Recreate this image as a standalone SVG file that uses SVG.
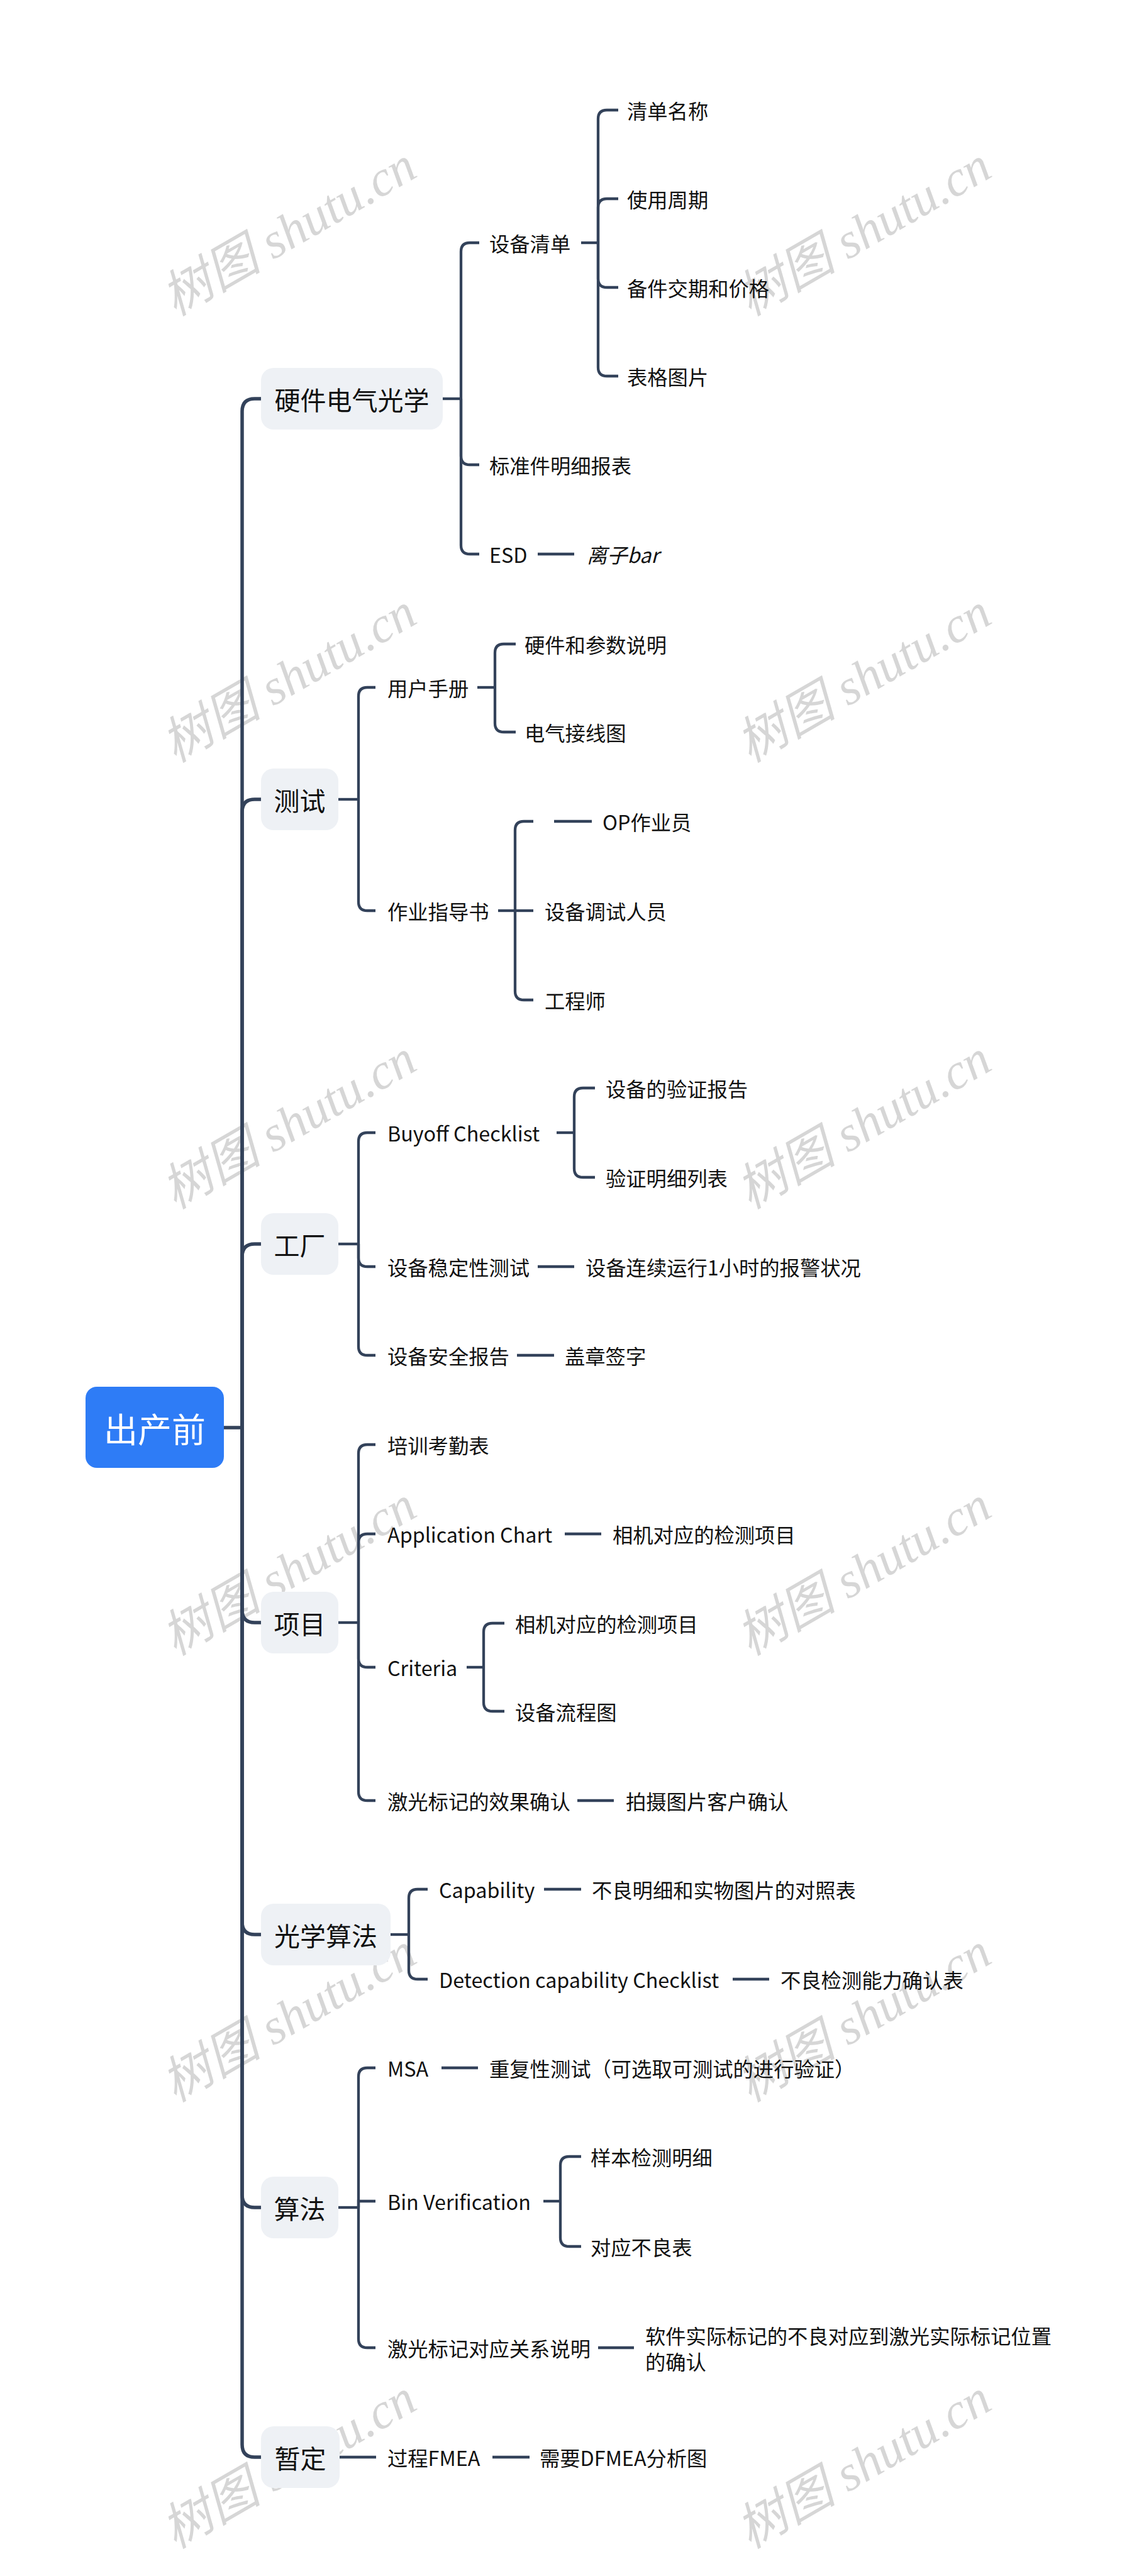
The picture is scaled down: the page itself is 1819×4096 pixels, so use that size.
<svg xmlns="http://www.w3.org/2000/svg" width="1819" height="4096" viewBox="0 0 1819 4096">
<style>
.wm{font-family:"Liberation Serif","Noto Sans CJK SC",serif;font-style:italic;font-size:80px;fill:#d6d6d6}
.t{font-family:"Noto Sans CJK SC","Noto Sans",sans-serif;font-size:32.3px;fill:#111;dominant-baseline:central}
.t1{font-family:"Noto Sans CJK SC","Noto Sans",sans-serif;font-size:41px;fill:#111;dominant-baseline:central;text-anchor:middle}
.t0{font-family:"Noto Sans CJK SC","Noto Sans",sans-serif;font-size:54px;fill:#fff;dominant-baseline:central;text-anchor:middle}
.b1{fill:#eef1f5}
.c1{fill:none;stroke:#33425a;stroke-width:5.5}
.c2{fill:none;stroke:#33425a;stroke-width:4.3}
</style>
<rect width="1819" height="4096" fill="#fff"/>
<g id="watermarks">
<text class="wm" transform="translate(459,368) rotate(-30)" text-anchor="middle" dominant-baseline="central">树图 shutu.cn</text>
<text class="wm" transform="translate(1373,368) rotate(-30)" text-anchor="middle" dominant-baseline="central">树图 shutu.cn</text>
<text class="wm" transform="translate(459,1078) rotate(-30)" text-anchor="middle" dominant-baseline="central">树图 shutu.cn</text>
<text class="wm" transform="translate(1373,1078) rotate(-30)" text-anchor="middle" dominant-baseline="central">树图 shutu.cn</text>
<text class="wm" transform="translate(459,1788) rotate(-30)" text-anchor="middle" dominant-baseline="central">树图 shutu.cn</text>
<text class="wm" transform="translate(1373,1788) rotate(-30)" text-anchor="middle" dominant-baseline="central">树图 shutu.cn</text>
<text class="wm" transform="translate(459,2498) rotate(-30)" text-anchor="middle" dominant-baseline="central">树图 shutu.cn</text>
<text class="wm" transform="translate(1373,2498) rotate(-30)" text-anchor="middle" dominant-baseline="central">树图 shutu.cn</text>
<text class="wm" transform="translate(459,3208) rotate(-30)" text-anchor="middle" dominant-baseline="central">树图 shutu.cn</text>
<text class="wm" transform="translate(1373,3208) rotate(-30)" text-anchor="middle" dominant-baseline="central">树图 shutu.cn</text>
<text class="wm" transform="translate(459,3918) rotate(-30)" text-anchor="middle" dominant-baseline="central">树图 shutu.cn</text>
<text class="wm" transform="translate(1373,3918) rotate(-30)" text-anchor="middle" dominant-baseline="central">树图 shutu.cn</text>
</g>
<g id="connectors">
<path class="c1" d="M356,2270 H385"/>
<path class="c1" d="M385,2270 V654 Q385,634 405,634 H415"/>
<path class="c1" d="M385,2270 V1291 Q385,1271 405,1271 H415"/>
<path class="c1" d="M385,2270 V1998 Q385,1978 405,1978 H415"/>
<path class="c1" d="M385,2270 V2560 Q385,2580 405,2580 H415"/>
<path class="c1" d="M385,2270 V3056 Q385,3076 405,3076 H415"/>
<path class="c1" d="M385,2270 V3490 Q385,3510 405,3510 H415"/>
<path class="c1" d="M385,2270 V3887 Q385,3907 405,3907 H415"/>
<!-- hardware -->
<path class="c2" d="M704,634 H733"/>
<path class="c2" d="M733,634 V400 Q733,386 747,386 H762"/>
<path class="c2" d="M733,634 V725 Q733,739 747,739 H762"/>
<path class="c2" d="M733,634 V867 Q733,881 747,881 H762"/>
<path class="c2" d="M924,386 H951"/>
<path class="c2" d="M951,386 V189 Q951,175 965,175 H983"/>
<path class="c2" d="M951,386 V330 Q951,316 965,316 H983"/>
<path class="c2" d="M951,386 V443 Q951,457 965,457 H983"/>
<path class="c2" d="M951,386 V584 Q951,598 965,598 H983"/>
<path class="c2" d="M855,881 H913"/>
<!-- test -->
<path class="c2" d="M538,1271 H570"/>
<path class="c2" d="M570,1271 V1107 Q570,1093 584,1093 H597"/>
<path class="c2" d="M570,1271 V1434 Q570,1448 584,1448 H597"/>
<path class="c2" d="M759,1093 H787"/>
<path class="c2" d="M787,1093 V1038 Q787,1024 801,1024 H820"/>
<path class="c2" d="M787,1093 V1150 Q787,1164 801,1164 H820"/>
<path class="c2" d="M792,1448 H819"/>
<path class="c2" d="M819,1448 V1320 Q819,1306 833,1306 H848"/>
<path class="c2" d="M819,1448 H848"/>
<path class="c2" d="M819,1448 V1576 Q819,1590 833,1590 H848"/>
<path class="c2" d="M881,1306 H941"/>
<!-- factory -->
<path class="c2" d="M538,1978 H570"/>
<path class="c2" d="M570,1978 V1815 Q570,1801 584,1801 H597"/>
<path class="c2" d="M570,1978 V2000 Q570,2014 584,2014 H597"/>
<path class="c2" d="M570,1978 V2141 Q570,2155 584,2155 H597"/>
<path class="c2" d="M885,1801 H913"/>
<path class="c2" d="M913,1801 V1744 Q913,1730 927,1730 H946"/>
<path class="c2" d="M913,1801 V1858 Q913,1872 927,1872 H946"/>
<path class="c2" d="M855,2014 H913"/>
<path class="c2" d="M822,2155 H881"/>
<!-- project -->
<path class="c2" d="M538,2580 H570"/>
<path class="c2" d="M570,2580 V2311 Q570,2297 584,2297 H597"/>
<path class="c2" d="M570,2580 V2453 Q570,2439 584,2439 H597"/>
<path class="c2" d="M570,2580 V2637 Q570,2651 584,2651 H597"/>
<path class="c2" d="M570,2580 V2849 Q570,2863 584,2863 H597"/>
<path class="c2" d="M898,2439 H956"/>
<path class="c2" d="M742,2651 H769"/>
<path class="c2" d="M769,2651 V2595 Q769,2581 783,2581 H802"/>
<path class="c2" d="M769,2651 V2707 Q769,2721 783,2721 H802"/>
<path class="c2" d="M918,2863 H976"/>
<!-- optics algorithm -->
<path class="c2" d="M621,3076 H650"/>
<path class="c2" d="M650,3076 V3018 Q650,3004 664,3004 H680"/>
<path class="c2" d="M650,3076 V3133 Q650,3147 664,3147 H680"/>
<path class="c2" d="M865,3004 H924"/>
<path class="c2" d="M1165,3147 H1223"/>
<!-- algorithm -->
<path class="c2" d="M538,3510 H570"/>
<path class="c2" d="M570,3510 V3302 Q570,3288 584,3288 H597"/>
<path class="c2" d="M570,3510 V3500 H597"/>
<path class="c2" d="M570,3510 V3719 Q570,3733 584,3733 H597"/>
<path class="c2" d="M702,3288 H760"/>
<path class="c2" d="M864,3500 H891"/>
<path class="c2" d="M891,3500 V3443 Q891,3429 905,3429 H924"/>
<path class="c2" d="M891,3500 V3558 Q891,3572 905,3572 H924"/>
<path class="c2" d="M951,3733 H1008"/>
<!-- temp -->
<path class="c2" d="M540,3907 H598"/>
<path class="c2" d="M783,3907 H842"/>
</g>
<g id="root"><rect x="136" y="2205" width="220" height="129" rx="18" fill="#2e7cf6"/><text class="t0" x="246" y="2270">出产前</text></g>
<g id="n-hw"><rect class="b1" x="415" y="585" width="289" height="98" rx="20"/><text class="t1" x="559.5" y="634">硬件电气光学</text></g>
<g id="n-sbqd"><text class="t" x="778" y="386">设备清单</text></g>
<g id="n-qdmc"><text class="t" x="997" y="175">清单名称</text></g>
<g id="n-syzq"><text class="t" x="997" y="316">使用周期</text></g>
<g id="n-bjjq"><text class="t" x="997" y="457">备件交期和价格</text></g>
<g id="n-bgtp"><text class="t" x="997" y="598">表格图片</text></g>
<g id="n-bzj"><text class="t" x="778" y="739">标准件明细报表</text></g>
<g id="n-esd"><text class="t" x="778" y="881">ESD</text></g>
<g id="n-lzbar"><text class="t" x="933" y="881" font-style="italic">离子bar</text></g>
<g id="n-test"><rect class="b1" x="415" y="1222" width="123" height="98" rx="20"/><text class="t1" x="476.5" y="1271">测试</text></g>
<g id="n-yhsc"><text class="t" x="616" y="1093">用户手册</text></g>
<g id="n-yjcs"><text class="t" x="834" y="1024">硬件和参数说明</text></g>
<g id="n-dqjx"><text class="t" x="834" y="1164">电气接线图</text></g>
<g id="n-zyzd"><text class="t" x="616" y="1448">作业指导书</text></g>
<g id="n-op"><text class="t" x="958" y="1306">OP作业员</text></g>
<g id="n-sbts"><text class="t" x="866" y="1448">设备调试人员</text></g>
<g id="n-gcs"><text class="t" x="866" y="1590">工程师</text></g>
<g id="n-factory"><rect class="b1" x="415" y="1929" width="123" height="98" rx="20"/><text class="t1" x="476.5" y="1978">工厂</text></g>
<g id="n-buyoff"><text class="t" x="616" y="1801">Buyoff Checklist</text></g>
<g id="n-yzbg"><text class="t" x="963" y="1730">设备的验证报告</text></g>
<g id="n-yzmx"><text class="t" x="963" y="1872">验证明细列表</text></g>
<g id="n-wdx"><text class="t" x="616" y="2014">设备稳定性测试</text></g>
<g id="n-lxyx"><text class="t" x="931" y="2014">设备连续运行1小时的报警状况</text></g>
<g id="n-aqbg"><text class="t" x="616" y="2155">设备安全报告</text></g>
<g id="n-gzqz"><text class="t" x="898" y="2155">盖章签字</text></g>
<g id="n-project"><rect class="b1" x="415" y="2531" width="123" height="98" rx="20"/><text class="t1" x="476.5" y="2580">项目</text></g>
<g id="n-pxkq"><text class="t" x="616" y="2297">培训考勤表</text></g>
<g id="n-appchart"><text class="t" x="616" y="2439">Application Chart</text></g>
<g id="n-xjdy1"><text class="t" x="974" y="2439">相机对应的检测项目</text></g>
<g id="n-criteria"><text class="t" x="616" y="2651">Criteria</text></g>
<g id="n-xjdy2"><text class="t" x="819" y="2581">相机对应的检测项目</text></g>
<g id="n-sblc"><text class="t" x="819" y="2721">设备流程图</text></g>
<g id="n-jgbj"><text class="t" x="616" y="2863">激光标记的效果确认</text></g>
<g id="n-psst"><text class="t" x="995" y="2863">拍摄图片客户确认</text></g>
<g id="n-optalg"><rect class="b1" x="415" y="3027" width="206" height="98" rx="20"/><text class="t1" x="518" y="3076">光学算法</text></g>
<g id="n-capa"><text class="t" x="698" y="3004">Capability</text></g>
<g id="n-blmx"><text class="t" x="941" y="3004">不良明细和实物图片的对照表</text></g>
<g id="n-detect"><text class="t" x="698" y="3147">Detection capability Checklist</text></g>
<g id="n-bljc"><text class="t" x="1241" y="3147">不良检测能力确认表</text></g>
<g id="n-alg"><rect class="b1" x="415" y="3461" width="123" height="98" rx="20"/><text class="t1" x="476.5" y="3510">算法</text></g>
<g id="n-msa"><text class="t" x="616" y="3288">MSA</text></g>
<g id="n-cfx"><text class="t" x="778" y="3288">重复性测试（可选取可测试的进行验证）</text></g>
<g id="n-bin"><text class="t" x="616" y="3500">Bin Verification</text></g>
<g id="n-ybjc"><text class="t" x="939" y="3429">样本检测明细</text></g>
<g id="n-dybl"><text class="t" x="939" y="3572">对应不良表</text></g>
<g id="n-jgdy"><text class="t" x="616" y="3733">激光标记对应关系说明</text></g>
<g id="n-rjsj"><text class="t" x="1026" y="3713">软件实际标记的不良对应到激光实际标记位置</text><text class="t" x="1026" y="3754">的确认</text></g>
<g id="n-temp"><rect class="b1" x="415" y="3858" width="125" height="98" rx="20"/><text class="t1" x="477.5" y="3907">暂定</text></g>
<g id="n-gcfmea"><text class="t" x="616" y="3907">过程FMEA</text></g>
<g id="n-dfmea"><text class="t" x="858" y="3907">需要DFMEA分析图</text></g>
</svg>
